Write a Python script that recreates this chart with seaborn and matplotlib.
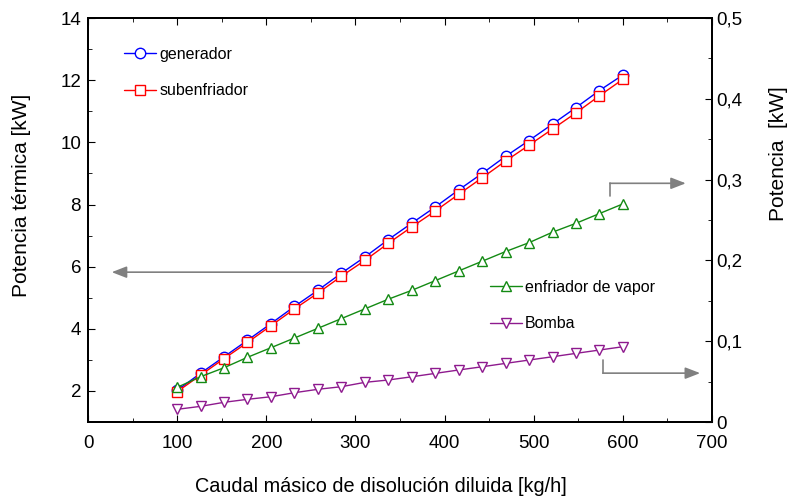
import numpy as np
import pandas as pd
import matplotlib
matplotlib.use("Agg")
import matplotlib.pyplot as plt
from matplotlib.ticker import MultipleLocator, FuncFormatter
import seaborn as sns

# ---- data ----
caudal = [100.0, 126.3, 152.6, 178.9, 205.3, 231.6, 257.9, 284.2, 310.5, 336.8,
          363.2, 389.5, 415.8, 442.1, 468.4, 494.7, 521.1, 547.4, 573.7, 600.0]
generador = [2.02, 2.57, 3.10, 3.63, 4.17, 4.72, 5.24, 5.79, 6.31, 6.87,
             7.40, 7.92, 8.47, 9.00, 9.55, 10.06, 10.59, 11.12, 11.67, 12.17]
subenfriador = [1.975, 2.51, 3.04, 3.56, 4.10, 4.64, 5.15, 5.69, 6.20, 6.75,
                7.28, 7.79, 8.33, 8.86, 9.40, 9.91, 10.43, 10.95, 11.50, 12.03]
enfriador_vapor = [0.0429, 0.0561, 0.0672, 0.0801, 0.0920, 0.104, 0.116, 0.128, 0.140, 0.152,
                   0.163, 0.175, 0.187, 0.199, 0.211, 0.222, 0.235, 0.246, 0.258, 0.270]
bomba = [0.0157, 0.0194, 0.0244, 0.0281, 0.0313, 0.0363, 0.0405, 0.0437, 0.0491, 0.052,
         0.056, 0.0602, 0.0644, 0.0684, 0.0726, 0.0767, 0.0808, 0.085, 0.0891, 0.0932]

xlabel = "Caudal másico de disolución diluida [kg/h]"
ylabel_left = "Potencia térmica [kW]"
ylabel_right = "Potencia  [kW]"

df = pd.DataFrame({"caudal": caudal, "generador": generador, "subenfriador": subenfriador,
                   "enfriador": enfriador_vapor, "bomba": bomba})

sns.set_style("ticks")
plt.rcParams["font.family"] = ["Liberation Sans", "DejaVu Sans"]
plt.rcParams["text.color"] = "black"
plt.rcParams["axes.labelcolor"] = "black"
plt.rcParams["xtick.color"] = "black"
plt.rcParams["ytick.color"] = "black"
FS_TICK = 13.5
FS_LEG = 11.5
FS_XLAB = 14.3
FS_YLAB = 15

fig = plt.figure(figsize=(8.0, 5.03), dpi=100)
ax = fig.add_axes([0.11, 0.161, 0.78, 0.803])
ax2 = ax.twinx()

mk = dict(markersize=7.5, markerfacecolor="white", linewidth=1.0, markeredgewidth=1.0)
sns.lineplot(data=df, x="caudal", y="generador", ax=ax, color="#0000ff", marker="o",
             markeredgecolor="#0000ff", label="generador", legend=False, **mk)
sns.lineplot(data=df, x="caudal", y="subenfriador", ax=ax, color="#ff0000", marker="s",
             markeredgecolor="#ff0000", label="subenfriador", legend=False, **mk)
sns.lineplot(data=df, x="caudal", y="enfriador", ax=ax2, color="#138a13", marker="^",
             markeredgecolor="#138a13", label="enfriador de vapor", legend=False, **mk)
sns.lineplot(data=df, x="caudal", y="bomba", ax=ax2, color="#8e1a8e", marker="v",
             markeredgecolor="#8e1a8e", label="Bomba", legend=False, **mk)

ax.set_xlim(0, 700)
ax.set_ylim(1, 14)
ax2.set_ylim(0, 0.5)

ax.xaxis.set_major_locator(MultipleLocator(100))
ax.xaxis.set_minor_locator(MultipleLocator(50))
ax.yaxis.set_major_locator(MultipleLocator(2))
ax.yaxis.set_minor_locator(MultipleLocator(1))
ax2.yaxis.set_major_locator(MultipleLocator(0.1))
ax2.yaxis.set_minor_locator(MultipleLocator(0.05))
ax2.yaxis.set_major_formatter(FuncFormatter(lambda v, p: "0" if abs(v) < 1e-9 else f"{v:.1f}".replace(".", ",")))

ax.tick_params(axis="x", which="both", direction="in", top=True, labelsize=FS_TICK, pad=9)
ax.tick_params(axis="x", which="major", length=5)
ax.tick_params(axis="x", which="minor", length=3)
ax.tick_params(axis="y", which="both", direction="in", right=False, labelsize=FS_TICK, pad=5)
ax.tick_params(axis="y", which="major", length=5)
ax.tick_params(axis="y", which="minor", length=3)
ax2.tick_params(axis="y", which="both", direction="in", labelsize=FS_TICK, pad=3)
ax2.tick_params(axis="y", which="major", length=5)
ax2.tick_params(axis="y", which="minor", length=3)

for a in (ax, ax2):
    for s in a.spines.values():
        s.set_visible(True)
        s.set_linewidth(1.4)
        s.set_color("black")

ax.set_xlabel(xlabel, fontsize=FS_XLAB)
ax.set_ylabel(ylabel_left, fontsize=FS_YLAB)
ax2.set_ylabel(ylabel_right, fontsize=FS_YLAB)
ax.xaxis.set_label_coords(0.47, -0.137)
ax.yaxis.set_label_coords(-0.092, 0.562)
ax2.yaxis.set_label_coords(1.091, 0.665)

# legends
h1, l1 = ax.get_legend_handles_labels()
leg1 = ax.legend(h1, l1, loc="upper left", bbox_to_anchor=(0.035, 0.965), frameon=False,
                 fontsize=FS_LEG, handlelength=2.0, handletextpad=0.2, labelspacing=1.35)
h2, l2 = ax2.get_legend_handles_labels()
ax2.legend(h2, l2, loc="upper left", bbox_to_anchor=(0.621, 0.388), frameon=False,
           fontsize=FS_LEG, handlelength=2.0, handletextpad=0.2, labelspacing=1.35)

# arrows
gray = "#808080"
ap = dict(arrowstyle="-|>,head_length=0.9,head_width=0.35", color=gray, lw=1.2, shrinkA=0, shrinkB=0)
ax.annotate("", xy=(0.038, 0.371), xytext=(0.391, 0.371), xycoords="axes fraction",
            textcoords="axes fraction", arrowprops=ap)
ax.plot([0.8365, 0.8365], [0.559, 0.591], transform=ax.transAxes, color=gray, lw=1.2)
ax.annotate("", xy=(0.958, 0.591), xytext=(0.8365, 0.591), xycoords="axes fraction",
            textcoords="axes fraction", arrowprops=ap)
ax.plot([0.825, 0.825], [0.121, 0.153], transform=ax.transAxes, color=gray, lw=1.2)
ax.annotate("", xy=(0.981, 0.121), xytext=(0.825, 0.121), xycoords="axes fraction",
            textcoords="axes fraction", arrowprops=ap)

fig.savefig("out.png", dpi=100)
